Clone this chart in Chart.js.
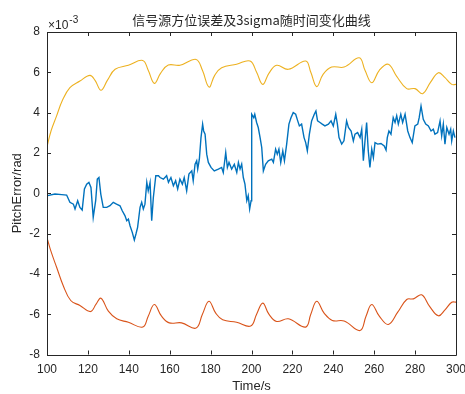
<!DOCTYPE html>
<html>
<head>
<meta charset="utf-8">
<script src="https://cdn.jsdelivr.net/npm/chart.js@4.4.1/dist/chart.umd.min.js"></script>
<style>
  html, body { margin: 0; padding: 0; background: #fff; }
  canvas { display: block; }
</style>
</head>
<body>
<canvas id="c" width="465" height="394"></canvas>
<script>
// values in units of 1e-3 rad (axis shows x10^-3)
const errTime = [100.3, 103.9, 107.2, 109.6, 111.2, 112.9, 113.7, 115.0, 116.1, 117.2, 118.3, 119.4, 120.5, 121.5, 122.6, 123.8, 124.6, 125.4, 126.3, 127.5, 129.2, 130.8, 132.4, 134.0, 135.7, 136.8, 138.1, 139.0, 139.8, 140.6, 141.7, 142.7, 143.5, 144.3, 145.5, 146.3, 147.1, 147.9, 148.8, 149.5, 150.4, 151.2, 152.0, 153.2, 154.5,
  155.3, 156.9, 158.5, 159.4, 160.6, 161.8, 162.9, 163.9, 165.0, 166.2, 167.1, 168.3, 169.4, 170.8, 171.5, 172.4, 173.2, 173.7, 174.5, 175.3, 176.1, 176.6, 177.3, 178.1, 178.9, 180.2, 181.8, 183.8, 185.4, 186.2, 187.4, 188.2, 189.0, 190.3, 191.6, 192.8, 193.6, 194.4, 195.2, 196.0, 196.8, 197.7, 198.4, 199.1, 199.8,
  200.1, 201.1, 201.6, 202.5, 203.3, 204.2, 205.0, 205.8, 206.9, 208.2, 209.9, 210.7, 211.8, 212.6, 213.4, 214.3, 215.3, 216.1, 217.2, 218.3, 219.3, 220.4, 221.6, 222.6, 223.4, 224.5, 225.7, 226.5, 227.3, 228.3, 229.4, 230.7, 231.5, 232.3, 233.5, 234.6, 235.9, 237.6, 238.9, 240.0, 241.2, 242.0, 242.8, 244.1, 245.2, 246.5, 247.4, 248.7, 249.8,
  250.6, 251.9, 253.1, 253.9, 254.7, 255.5, 256.3, 257.1, 257.9, 258.8, 259.6, 260.4, 261.7, 263.3, 264.9, 265.8, 266.4, 267.2, 268.2, 269.3, 270.2, 271.0, 271.8, 273.0, 273.9, 275.1, 276.4, 277.5, 278.6, 279.9, 281.3, 282.0, 282.9, 284.0, 285.2, 286.5, 287.8, 288.9, 289.7, 291.0, 292.2, 293.0, 293.8, 294.6, 295.5, 296.6, 297.4, 297.9, 298.7, 299.5];
const errVal = [-0.12, -0.04, -0.07, -0.09, -0.45, -0.54, -0.78, -0.37, -0.70, -0.83, 0.21, 0.45, 0.54, 0.29, -1.20, -0.37, 0.70, 0.78, -0.04, -0.70, -0.70, -0.62, -0.45, -0.54, -0.62, -0.87, -1.11, -1.36, -1.28, -1.61, -1.94, -2.32, -2.02, -1.69, -0.70, -0.45, -0.78, -0.54, 0.54, 0.12, 0.54, -1.36, -0.21, 0.87, 0.87,
  0.78, 0.70, 0.87, 0.54, 0.78, 0.37, 0.62, 0.21, 0.70, 0.45, 0.78, 0.12, 0.95, 1.11, 0.62, 1.44, 1.61, 1.20, 1.69, 2.76, 3.43, 3.09, 2.93, 1.94, 1.53, 1.28, 1.11, 1.20, 1.28, 1.03, 2.02, 1.28, 1.53, 1.20, 1.44, 1.03, 1.53, 1.20, 1.44, 0.78, 0.45, -0.37, -0.12, -0.78, -0.37,
  3.92, 3.75, 3.92, 3.51, 3.26, 2.76, 2.27, 1.11, 1.44, 1.61, 1.69, 1.53, 2.19, 1.94, 2.19, 1.53, 2.10, 1.61, 2.44, 3.43, 3.75, 4.00, 3.92, 3.59, 3.34, 3.43, 2.76, 2.51, 2.10, 2.93, 3.59, 3.92, 4.08, 3.59, 3.51, 3.43, 3.34, 3.43, 3.59, 3.34, 3.92, 3.43, 2.76, 2.44, 2.60, 3.59, 3.26, 3.09, 2.60,
  2.93, 3.01, 2.76, 3.18, 1.61, 2.60, 3.51, 2.10, 1.28, 2.19, 1.77, 2.51, 2.44, 2.47, 2.35, 2.14, 2.76, 3.09, 2.93, 3.75, 3.51, 3.84, 3.43, 3.92, 3.51, 3.92, 3.09, 2.76, 2.51, 3.34, 3.43, 3.75, 4.33, 3.67, 3.43, 3.34, 3.09, 3.18, 2.93, 3.01, 3.59, 2.85, 3.43, 2.44, 3.26, 2.93, 3.18, 2.60, 3.09, 2.76];

const upTime = [100, 102, 104.7, 107.5, 111.2, 116.1, 121, 123.5, 126.4, 129.5, 133.3, 139.8, 146.8, 149.5, 152.5, 155.5, 159.3, 165, 172.9, 176, 179.2, 182, 185.4, 192.7, 199.3, 202.5, 205.5, 208.5, 212.3, 218, 226.5, 229, 231.9, 235, 239.2, 245.3, 252.7, 255.5, 258.8, 262.5, 266.9, 271, 275.9, 280, 283.7, 287.5, 291.4, 294.5, 297.9, 300];
const upVal = [2.3, 3.1, 3.84, 4.6, 5.24, 5.57, 5.85, 5.6, 5.11, 5.6, 6.15, 6.35, 6.59, 6.1, 5.45, 5.95, 6.36, 6.35, 6.64, 6.1, 5.27, 5.85, 6.23, 6.4, 6.56, 6.0, 5.4, 5.95, 6.35, 6.15, 6.56, 6.0, 5.29, 5.9, 6.26, 6.26, 6.72, 6.1, 5.48, 6.1, 6.4, 5.8, 5.19, 5.19, 4.94, 5.5, 5.98, 5.75, 5.4, 5.4];

const lowTime = [100, 102, 104.7, 108, 111.6, 116.1, 121.3, 124, 126.4, 130, 134.1, 139.8, 146.8, 149.5, 152.5, 156, 159.8, 165.8, 172.9, 176, 179.2, 182.5, 185.9, 192.7, 199.6, 202.5, 205.5, 208.5, 212.3, 218, 226.5, 229, 231.9, 235.5, 239.5, 245.3, 253.1, 256, 258.8, 262.5, 266.9, 271.5, 275.9, 279.2, 283.2, 287, 291.4, 294.5, 297.9, 300];
const lowVal = [-2.2, -2.9, -3.67, -4.6, -5.32, -5.57, -5.87, -5.5, -5.21, -5.85, -6.23, -6.4, -6.64, -6.1, -5.52, -6.1, -6.43, -6.43, -6.69, -6.0, -5.36, -5.95, -6.28, -6.4, -6.59, -6.0, -5.45, -6.0, -6.36, -6.23, -6.64, -6.0, -5.36, -5.95, -6.31, -6.34, -6.81, -6.1, -5.52, -6.1, -6.51, -5.9, -5.27, -5.24, -5.04, -5.6, -6.08, -5.8, -5.41, -5.4];

const xTicks = [100, 120, 140, 160, 180, 200, 220, 240, 260, 280, 300];
const yTicks = [-8, -6, -4, -2, 0, 2, 4, 6, 8];

const titleText = '信号源方位误差及3sigma随时间变化曲线';
const axColor = '#262626';

function pts(t, v) { return t.map((x, i) => ({ x: x, y: v[i] })); }

// MATLAB style box with inward ticks, title and labels
const matlabAxes = {
  id: 'matlabAxes',
  afterDraw(chart) {
    const ctx = chart.ctx;
    const a = chart.chartArea;
    const xs = chart.scales.x, ys = chart.scales.y;
    ctx.save();
    ctx.strokeStyle = axColor;
    ctx.lineWidth = 1;
    ctx.beginPath();
    ctx.rect(Math.round(a.left) + 0.5, Math.round(a.top) + 0.5, Math.round(a.right - a.left), Math.round(a.bottom - a.top));
    xTicks.forEach(v => {
      const p = Math.round(xs.getPixelForValue(v)) + 0.5;
      ctx.moveTo(p, a.bottom); ctx.lineTo(p, a.bottom - 4);
      ctx.moveTo(p, a.top); ctx.lineTo(p, a.top + 4);
    });
    yTicks.forEach(v => {
      const p = Math.round(ys.getPixelForValue(v)) + 0.5;
      ctx.moveTo(a.left, p); ctx.lineTo(a.left + 4, p);
      ctx.moveTo(a.right, p); ctx.lineTo(a.right - 4, p);
    });
    ctx.stroke();

    ctx.fillStyle = axColor;
    ctx.textAlign = 'center';
    ctx.textBaseline = 'middle';
    ctx.font = '13px "Noto Sans CJK SC"';
    ctx.fillText(titleText, (a.left + a.right) / 2, 20);

    ctx.textAlign = 'left';
    ctx.textBaseline = 'alphabetic';
    ctx.font = '12px "Liberation Sans"';
    ctx.fillText('\u00d710', a.left + 1, 29);
    const w = ctx.measureText('\u00d710').width;
    ctx.font = '10px "Liberation Sans"';
    ctx.fillText('-3', a.left + 1 + w + 1, 23);

    ctx.textAlign = 'center';
    ctx.textBaseline = 'middle';
    ctx.font = '13px "Liberation Sans"';
    ctx.fillText('Time/s', (a.left + a.right) / 2, 386);

    ctx.translate(17, (a.top + a.bottom) / 2);
    ctx.rotate(-Math.PI / 2);
    ctx.fillText('PitchError/rad', 0, 0);
    ctx.restore();
  }
};

new Chart(document.getElementById('c'), {
  type: 'line',
  data: {
    datasets: [
      { label: 'error', data: pts(errTime, errVal), borderColor: '#0072BD', borderWidth: 1.4, pointRadius: 0, tension: 0 },
      { label: '-3sigma', data: pts(lowTime, lowVal), borderColor: '#D95319', borderWidth: 1.1, pointRadius: 0, tension: 0.4 },
      { label: '+3sigma', data: pts(upTime, upVal), borderColor: '#EDB120', borderWidth: 1.1, pointRadius: 0, tension: 0.4 }
    ]
  },
  options: {
    responsive: false,
    animation: false,
    devicePixelRatio: 1,
    layout: { padding: { top: 32, right: 9, left: 0, bottom: 0 } },
    plugins: { legend: { display: false }, tooltip: { enabled: false }, title: { display: false } },
    scales: {
      x: {
        type: 'linear', min: 100, max: 300,
        grid: { display: false, drawTicks: false }, border: { display: false },
        ticks: { stepSize: 20, padding: 8, color: axColor, font: { family: 'Liberation Sans', size: 12 }, maxRotation: 0, autoSkip: false },
        afterFit(s) { s.height = 39.5; s.paddingLeft = 0; s.paddingRight = 0; }
      },
      y: {
        type: 'linear', min: -8, max: 8,
        grid: { display: false, drawTicks: false }, border: { display: false },
        ticks: { stepSize: 2, padding: 7, color: axColor, font: { family: 'Liberation Sans', size: 12 } },
        afterFit(s) { s.width = 47; s.paddingTop = 0; s.paddingBottom = 0; }
      }
    }
  },
  plugins: [matlabAxes]
});
</script>
</body>
</html>
